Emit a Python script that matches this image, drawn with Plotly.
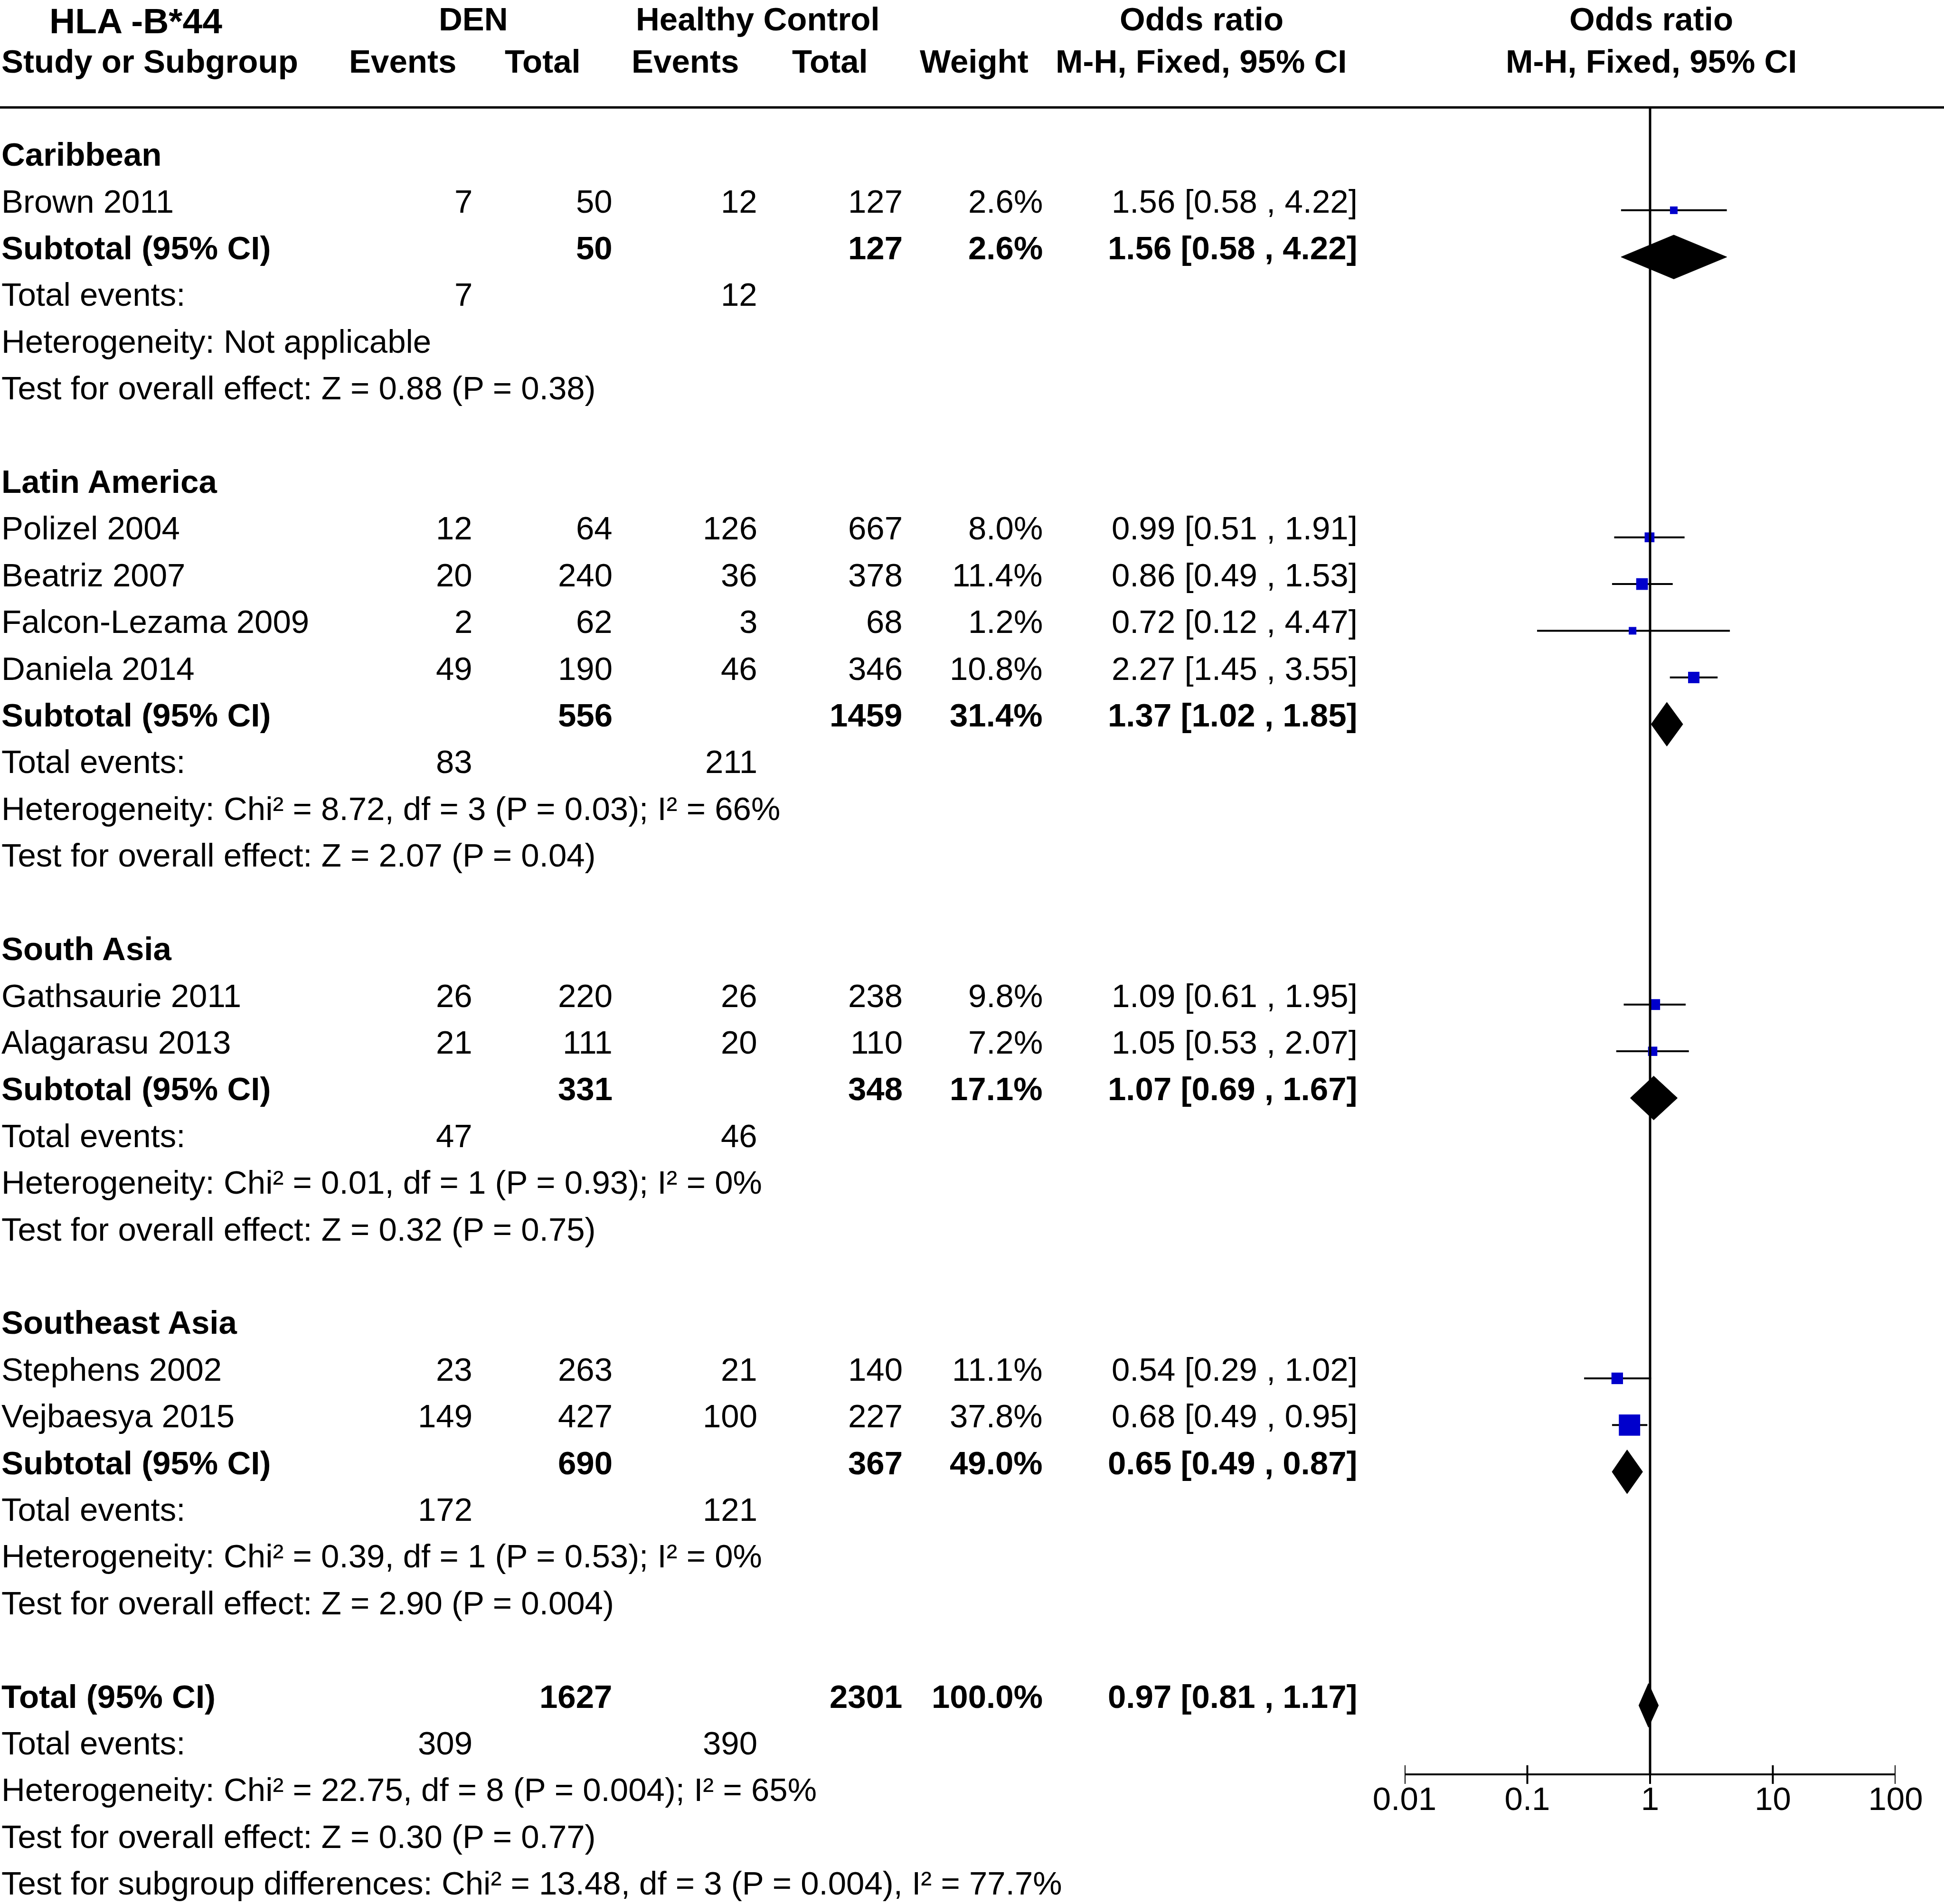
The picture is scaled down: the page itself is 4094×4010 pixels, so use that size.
import math
import plotly.graph_objects as go

W, H = 4094, 4010
FONT = "Liberation Sans, Arial, sans-serif"
FS = 69

# ---------------- data ----------------
groups = ["Caribbean", "Latin America", "South Asia", "Southeast Asia"]
study_group = [0, 1, 1, 1, 1, 2, 2, 3, 3]
study_names = ["Brown 2011", "Polizel 2004", "Beatriz 2007", "Falcon-Lezama 2009", "Daniela 2014",
               "Gathsaurie 2011", "Alagarasu 2013", "Stephens 2002", "Vejbaesya 2015"]
den_events = [7, 12, 20, 2, 49, 26, 21, 23, 149]
den_total = [50, 64, 240, 62, 190, 220, 111, 263, 427]
hc_events = [12, 126, 36, 3, 46, 26, 20, 21, 100]
hc_total = [127, 667, 378, 68, 346, 238, 110, 140, 227]
weights = [2.6, 8.0, 11.4, 1.2, 10.8, 9.8, 7.2, 11.1, 37.8]
or_est = [1.56, 0.99, 0.86, 0.72, 2.27, 1.09, 1.05, 0.54, 0.68]
or_lo = [0.58, 0.51, 0.49, 0.12, 1.45, 0.61, 0.53, 0.29, 0.49]
or_hi = [4.22, 1.91, 1.53, 4.47, 3.55, 1.95, 2.07, 1.02, 0.95]

sub_den_total = [50, 556, 331, 690]
sub_hc_total = [127, 1459, 348, 367]
sub_weight = [2.6, 31.4, 17.1, 49.0]
sub_est = [1.56, 1.37, 1.07, 0.65]
sub_lo = [0.58, 1.02, 0.69, 0.49]
sub_hi = [4.22, 1.85, 1.67, 0.87]
sub_den_events = [7, 83, 47, 172]
sub_hc_events = [12, 211, 46, 121]
sub_het = ["Not applicable",
           "Chi² = 8.72, df = 3 (P = 0.03); I² = 66%",
           "Chi² = 0.01, df = 1 (P = 0.93); I² = 0%",
           "Chi² = 0.39, df = 1 (P = 0.53); I² = 0%"]
sub_z = ["Z = 0.88 (P = 0.38)", "Z = 2.07 (P = 0.04)", "Z = 0.32 (P = 0.75)", "Z = 2.90 (P = 0.004)"]

total_den_total = 1627
total_hc_total = 2301
total_weight = 100.0
total_est, total_lo, total_hi = 0.97, 0.81, 1.17
total_den_events = 309
total_hc_events = 390
total_het = "Chi² = 22.75, df = 8 (P = 0.004); I² = 65%"
total_z = "Z = 0.30 (P = 0.77)"
subgroup_diff = "Chi² = 13.48, df = 3 (P = 0.004), I² = 77.7%"

tick_vals = [0.01, 0.1, 1, 10, 100]
tick_text = ["0.01", "0.1", "1", "10", "100"]

# ---------------- layout helpers ----------------
Y_TOP, Y_BOT = -3.31, 37.44          # visible row range
RULE_ROW = -1.01
HDR2_ROW = -1.99
AXIS_ROW = 34.67
TXT_OFF = 0.0
MK_OFF = 0.19
DIA_H = 0.47

COL = dict(label=1, de=997, dt=1292, he=1597, ht=1903, w=2198, orr=2861)


def px(x):
    return x / W


annotations = []


def txt(text, xpix, row, anchor="left", bold=False, size=FS, yanchor="middle", yref="y"):
    if bold:
        text = "<b>" + text + "</b>"
    annotations.append(dict(text=text, x=px(xpix), y=row if yref == "paper" else row + TXT_OFF,
                            xref="paper", yref=yref,
                            xanchor=anchor, yanchor=yanchor, showarrow=False,
                            font=dict(family=FONT, size=size, color="black")))


def fmt_or(e, l, h):
    return f"{e:.2f} [{l:.2f} , {h:.2f}]"


# headers (top row anchored to the top edge of the page)
txt("HLA -B*44", 286, 1.0, "center", True, 75, "top", "paper")
txt("DEN", 997, 1.0, "center", True, FS, "top", "paper")
txt("Healthy Control", 1596, 1.0, "center", True, FS, "top", "paper")
txt("Odds ratio", 2530, 1.0, "center", True, FS, "top", "paper")
txt("Odds ratio", 3477, 1.0, "center", True, FS, "top", "paper")
txt("Study or Subgroup", COL["label"], HDR2_ROW, "left", True)
txt("Events", 848, HDR2_ROW, "center", True)
txt("Total", 1143, HDR2_ROW, "center", True)
txt("Events", 1443, HDR2_ROW, "center", True)
txt("Total", 1748, HDR2_ROW, "center", True)
txt("Weight", 2051, HDR2_ROW, "center", True)
txt("M-H, Fixed, 95% CI", 2529, HDR2_ROW, "center", True)
txt("M-H, Fixed, 95% CI", 3477, HDR2_ROW, "center", True)

ci_x, ci_y = [], []
sq_x, sq_y, sq_s = [], [], []
diamonds = []

row = 0
for g, gname in enumerate(groups):
    txt(gname, COL["label"], row, bold=True)
    row += 1
    for i, sg in enumerate(study_group):
        if sg != g:
            continue
        txt(study_names[i], COL["label"], row)
        txt(str(den_events[i]), COL["de"], row, "right")
        txt(str(den_total[i]), COL["dt"], row, "right")
        txt(str(hc_events[i]), COL["he"], row, "right")
        txt(str(hc_total[i]), COL["ht"], row, "right")
        txt(f"{weights[i]:.1f}%", COL["w"], row, "right")
        txt(fmt_or(or_est[i], or_lo[i], or_hi[i]), COL["orr"], row, "right")
        ci_x += [or_lo[i], or_hi[i], None]
        ci_y += [row + MK_OFF, row + MK_OFF, None]
        sq_x.append(or_est[i])
        sq_y.append(row + MK_OFF)
        sq_s.append(max(16, 7.3 * math.sqrt(weights[i])))
        row += 1
    txt("Subtotal (95% CI)", COL["label"], row, bold=True)
    txt(str(sub_den_total[g]), COL["dt"], row, "right", True)
    txt(str(sub_hc_total[g]), COL["ht"], row, "right", True)
    txt(f"{sub_weight[g]:.1f}%", COL["w"], row, "right", True)
    txt(fmt_or(sub_est[g], sub_lo[g], sub_hi[g]), COL["orr"], row, "right", True)
    diamonds.append((sub_est[g], sub_lo[g], sub_hi[g], row + MK_OFF))
    row += 1
    txt("Total events:", COL["label"], row)
    txt(str(sub_den_events[g]), COL["de"], row, "right")
    txt(str(sub_hc_events[g]), COL["he"], row, "right")
    row += 1
    txt("Heterogeneity: " + sub_het[g], COL["label"], row)
    row += 1
    txt("Test for overall effect: " + sub_z[g], COL["label"], row)
    row += 2

txt("Total (95% CI)", COL["label"], row, bold=True)
txt(str(total_den_total), COL["dt"], row, "right", True)
txt(str(total_hc_total), COL["ht"], row, "right", True)
txt(f"{total_weight:.1f}%", COL["w"], row, "right", True)
txt(fmt_or(total_est, total_lo, total_hi), COL["orr"], row, "right", True)
diamonds.append((total_est, total_lo, total_hi, row + MK_OFF))
row += 1
txt("Total events:", COL["label"], row)
txt(str(total_den_events), COL["de"], row, "right")
txt(str(total_hc_events), COL["he"], row, "right")
row += 1
txt("Heterogeneity: " + total_het, COL["label"], row)
row += 1
txt("Test for overall effect: " + total_z, COL["label"], row)
row += 1
txt("Test for subgroup differences: " + subgroup_diff, COL["label"], row)

fig = go.Figure()

# CI lines
fig.add_trace(go.Scatter(x=ci_x, y=ci_y, mode="lines", line=dict(color="black", width=4),
                         hoverinfo="skip", showlegend=False))
# squares
fig.add_trace(go.Scatter(x=sq_x, y=sq_y, mode="markers",
                         marker=dict(symbol="square", size=sq_s, color="#0000CC", opacity=1,
                                     line=dict(width=0)),
                         hoverinfo="skip", showlegend=False))
# diamonds
for e, l, h, r in diamonds:
    fig.add_trace(go.Scatter(x=[l, e, h, e, l], y=[r, r - DIA_H, r, r + DIA_H, r],
                             mode="lines", fill="toself", fillcolor="black",
                             line=dict(color="black", width=1), hoverinfo="skip", showlegend=False))
# vertical line of no effect
fig.add_trace(go.Scatter(x=[1, 1], y=[RULE_ROW, AXIS_ROW], mode="lines",
                         line=dict(color="black", width=5), hoverinfo="skip", showlegend=False))
# tick marks (crossing the axis line)
tx, ty = [], []
for tv in tick_vals:
    tx += [tv, tv, None]
    ty += [AXIS_ROW - 0.2, AXIS_ROW + 0.2, None]
fig.add_trace(go.Scatter(x=tx, y=ty, mode="lines", line=dict(color="black", width=4),
                         hoverinfo="skip", showlegend=False))

axis_paper = (Y_BOT - AXIS_ROW) / (Y_BOT - Y_TOP)

fig.update_layout(
    width=W, height=H,
    margin=dict(l=0, r=0, t=0, b=0, pad=0, autoexpand=False),
    paper_bgcolor="white", plot_bgcolor="white",
    showlegend=False,
    annotations=annotations,
    shapes=[dict(type="line", xref="paper", yref="y", x0=0, x1=1, y0=RULE_ROW, y1=RULE_ROW,
                 line=dict(color="black", width=5))],
    xaxis=dict(type="log", range=[-2, 2], domain=[2958 / W, 3992 / W],
               anchor="free", position=axis_paper, automargin=False,
               showline=True, linecolor="black", linewidth=4,
               ticks="", ticklabelstandoff=-10,
               tickvals=tick_vals, ticktext=tick_text,
               tickfont=dict(family=FONT, size=FS, color="black"),
               showgrid=False, zeroline=False, fixedrange=True),
    yaxis=dict(range=[Y_BOT, Y_TOP], domain=[0, 1], visible=False, showgrid=False,
               zeroline=False, fixedrange=True, automargin=False),
)

fig.write_html("out.html",
               config={"displayModeBar": False, "staticPlot": True},
               post_script="document.body.style.margin='0px';document.body.style.padding='0px';")
